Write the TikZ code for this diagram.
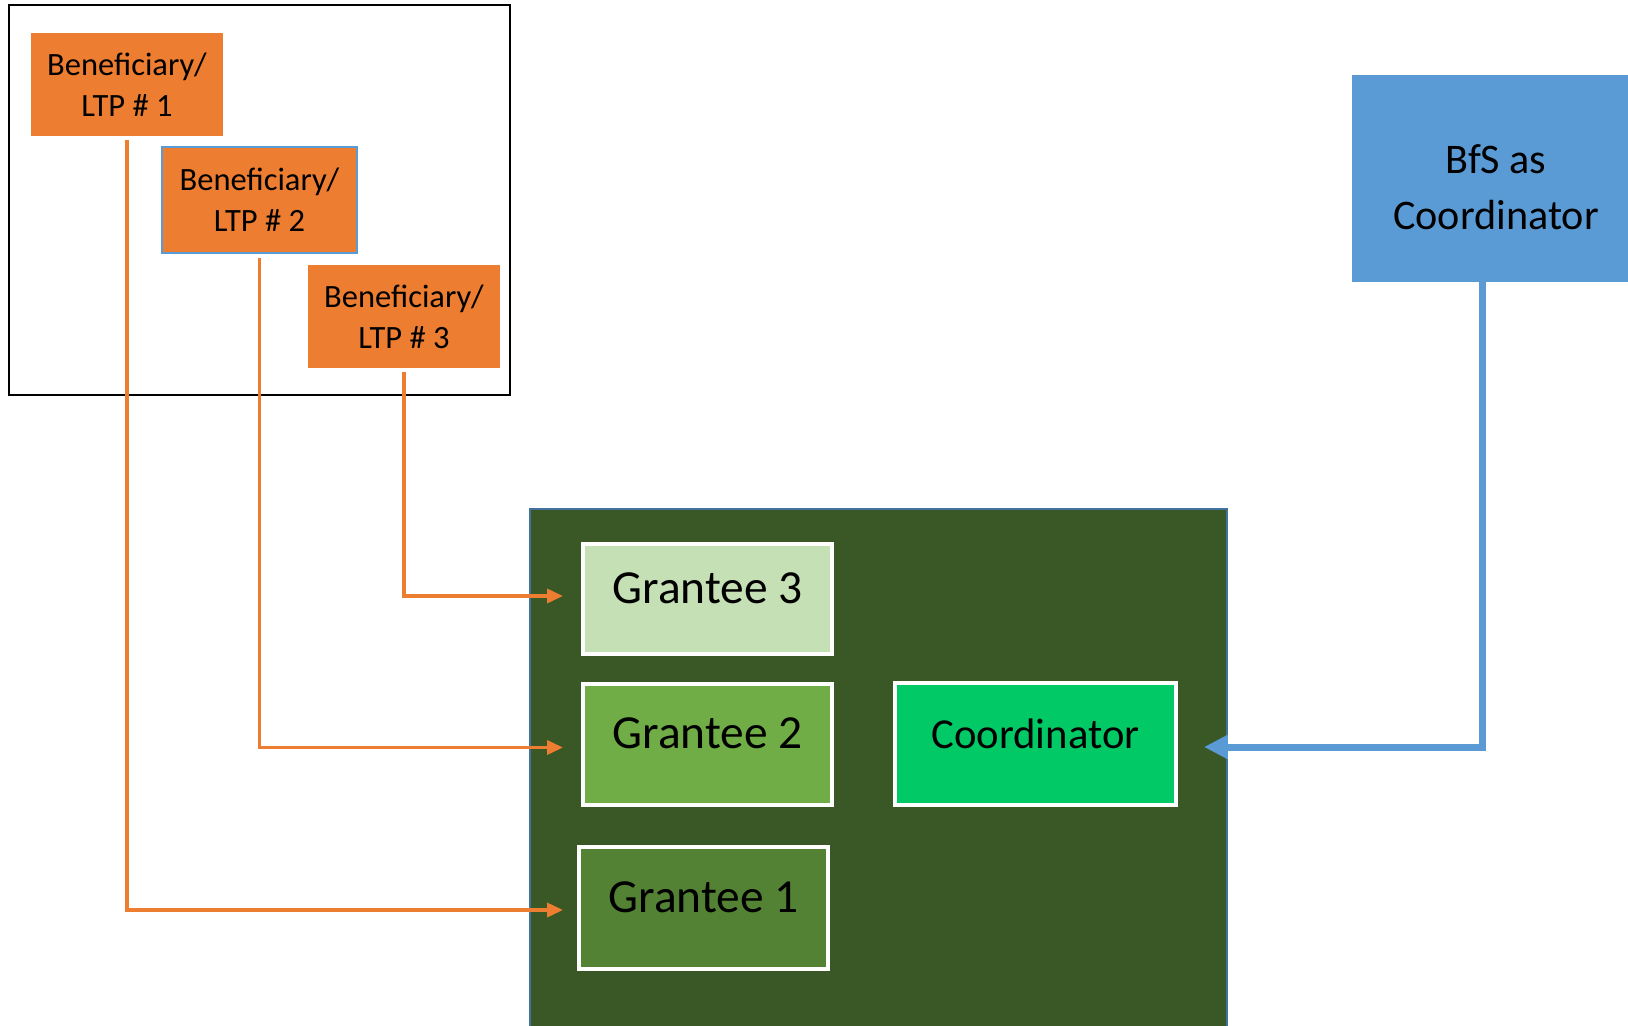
\documentclass[tikz,border=0pt]{standalone}
\usepackage{fontspec}
\setmainfont{Carlito}
\usetikzlibrary{arrows.meta}
\definecolor{ltporange}{HTML}{ED7D31}
\definecolor{bfsblue}{HTML}{5B9BD5}
\definecolor{teamgreen}{HTML}{3A5726}
\definecolor{frameblue}{HTML}{41719C}
\definecolor{grantA}{HTML}{548235}
\definecolor{grantB}{HTML}{70AD47}
\definecolor{grantC}{HTML}{C5E0B4}
\definecolor{coordgreen}{HTML}{00C965}
\begin{document}
\begin{tikzpicture}[x=0.02cm, y=-0.02cm,
	ltp/.style={rectangle, fill=ltporange, minimum width=3.84cm, minimum height=2.06cm, inner sep=0pt, align=center, font=\fontsize{18.5}{23.5}\selectfont},
	grantee/.style={rectangle, draw=white, line width=0.08cm, minimum width=4.98cm, inner sep=0pt, text height=14pt, text depth=9pt, font=\fontsize{27}{30}\selectfont},
	feed/.style={draw=ltporange, line width=0.07cm, shorten <=0.08cm, -{Triangle[length=0.32cm, width=0.28cm]}},
	]
	\useasboundingbox (0,0) rectangle (1628,1026);
	% beneficiaries
	\draw[line width=0.055cm] (9,5) rectangle (510,395);
	\node (B1) at (127, 84.5)	[ltp]	{Beneficiary/\\LTP \# 1};
	\node (B2) at (259.5, 200)	[ltp, draw=bfsblue, line width=0.04cm, minimum width=3.9cm, minimum height=2.12cm]	{Beneficiary/\\LTP \# 2};
	\node (B3) at (404, 316.5)	[ltp]	{Beneficiary/\\LTP \# 3};
	% consortium
	\draw[draw=frameblue, fill=teamgreen, line width=0.04cm] (530,509) rectangle (1227,1045);
	\node (G3) at (707.5, 599)	[grantee, fill=grantC, minimum height=2.2cm]	{Grantee 3};
	\node (G2) at (707.5, 744.5)	[grantee, fill=grantB, minimum height=2.42cm]	{Grantee 2};
	\node (G1) at (703.5, 908)	[grantee, fill=grantA, minimum height=2.44cm]	{Grantee 1};
	\node (C) at (1035.5, 744)	[grantee, fill=coordgreen, minimum width=5.62cm, minimum height=2.44cm, font=\fontsize{24.3}{30}\selectfont]	{Coordinator};
	\node (BfS) at (1496, 178.5)	[rectangle, fill=bfsblue, minimum width=5.76cm, minimum height=4.14cm, align=center, font=\fontsize{24}{32}\selectfont]	{\rule{0pt}{0.92cm}BfS as\\Coordinator};
	% links
	\draw[feed, shorten >=0.28cm] (B1.south) |- ([yshift=-0.04cm]G1.west);
	\draw[feed, shorten >=0.36cm] (B2.south) |- ([yshift=-0.06cm]G2.west);
	\draw[feed, shorten >=0.36cm] (B3.south) |- ([yshift=0.06cm]G3.west);
	\draw[draw=bfsblue, line width=0.14cm, shorten >=0.52cm, -{Triangle[length=0.48cm, width=0.46cm]}] ([xshift=-0.28cm]BfS.south) |- ([yshift=-0.06cm]C.east);
\end{tikzpicture}
\end{document}
